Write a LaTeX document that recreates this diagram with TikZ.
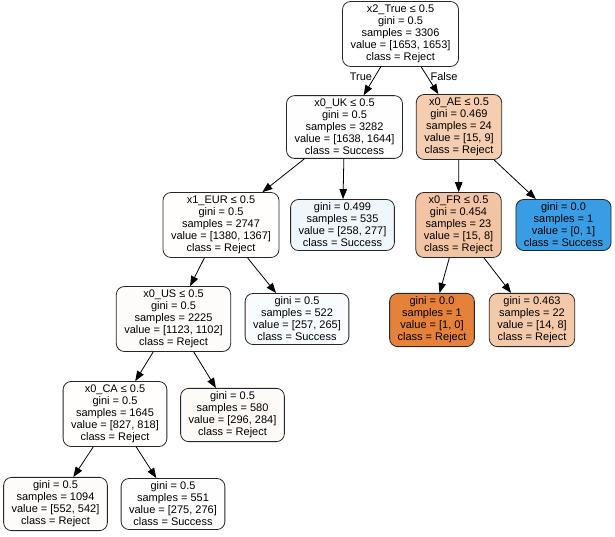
\documentclass[tikz,border=0pt]{standalone}
\usepackage{fontspec}
\setmainfont{Liberation Sans}
\usetikzlibrary{arrows.meta}
\definecolor{cRoot}{HTML}{FFFFFF}
\definecolor{cUK}{HTML}{FEFEFF}
\definecolor{cAE}{HTML}{F5CDB0}
\definecolor{cEUR}{HTML}{FFFEFD}
\definecolor{cN499}{HTML}{EFF7FD}
\definecolor{cFR}{HTML}{F3C4A3}
\definecolor{cS00}{HTML}{399DE5}
\definecolor{cUS}{HTML}{FEFCFB}
\definecolor{cN522}{HTML}{F9FCFE}
\definecolor{cR00}{HTML}{E58139}
\definecolor{cN463}{HTML}{F4C9AA}
\definecolor{cCA}{HTML}{FFFEFD}
\definecolor{cN580}{HTML}{FEFAF7}
\definecolor{cN1094}{HTML}{FEFCFB}
\definecolor{cN551}{HTML}{FEFEFF}
\begin{document}
\begin{tikzpicture}[x=1pt,y=-1pt,
  tn/.style={draw=black!85, line width=0.8pt, rounded corners=8pt, align=center,
    inner xsep=8pt, inner ysep=3.5pt, font=\fontsize{11}{12}\selectfont},
  edge/.style={draw=black, line width=0.8pt, -{Triangle[length=10pt,width=7.5pt]}},
  lab/.style={font=\fontsize{11}{12}\selectfont, inner sep=0pt}]
\useasboundingbox (0,0) rectangle (615,536);
\node[tn, fill=cRoot] (root) at (400.5,34) {x2\_True ≤ 0.5\\gini = 0.5\\samples = 3306\\value = [1653, 1653]\\class = Reject};
\node[tn, fill=cUK] (uk) at (344.5,127) {x0\_UK ≤ 0.5\\gini = 0.5\\samples = 3282\\value = [1638, 1644]\\class = Success};
\node[tn, fill=cAE] (ae) at (459,127) {x0\_AE ≤ 0.5\\gini = 0.469\\samples = 24\\value = [15, 9]\\class = Reject};
\node[tn, fill=cEUR] (eur) at (221,225) {x1\_EUR ≤ 0.5\\gini = 0.5\\samples = 2747\\value = [1380, 1367]\\class = Reject};
\node[tn, fill=cN499] (n499) at (342.5,225) {gini = 0.499\\samples = 535\\value = [258, 277]\\class = Success};
\node[tn, fill=cFR] (fr) at (458.5,225) {x0\_FR ≤ 0.5\\gini = 0.454\\samples = 23\\value = [15, 8]\\class = Reject};
\node[tn, fill=cS00] (s00) at (563.5,225) {gini = 0.0\\samples = 1\\value = [0, 1]\\class = Success};
\node[tn, fill=cUS] (us) at (173.5,319) {x0\_US ≤ 0.5\\gini = 0.5\\samples = 2225\\value = [1123, 1102]\\class = Reject};
\node[tn, fill=cN522] (n522) at (297,319) {gini = 0.5\\samples = 522\\value = [257, 265]\\class = Success};
\node[tn, fill=cR00] (r00) at (432,320) {gini = 0.0\\samples = 1\\value = [1, 0]\\class = Reject};
\node[tn, fill=cN463] (n463) at (532,320) {gini = 0.463\\samples = 22\\value = [14, 8]\\class = Reject};
\node[tn, fill=cCA] (ca) at (115,414) {x0\_CA ≤ 0.5\\gini = 0.5\\samples = 1645\\value = [827, 818]\\class = Reject};
\node[tn, fill=cN580] (n580) at (232.5,415) {gini = 0.5\\samples = 580\\value = [296, 284]\\class = Reject};
\node[tn, fill=cN1094] (n1094) at (55.5,504) {gini = 0.5\\samples = 1094\\value = [552, 542]\\class = Reject};
\node[tn, fill=cN551] (n551) at (173,504) {gini = 0.5\\samples = 551\\value = [275, 276]\\class = Success};
\draw[edge] (root) -- (uk);
\draw[edge] (root) -- (ae);
\draw[edge] (uk) -- (eur);
\draw[edge] (uk) -- (n499);
\draw[edge] (ae) -- (fr);
\draw[edge] (ae) -- (s00);
\draw[edge] (eur) -- (us);
\draw[edge] (eur) -- (n522);
\draw[edge] (fr) -- (r00);
\draw[edge] (fr) -- (n463);
\draw[edge] (us) -- (ca);
\draw[edge] (us) -- (n580);
\draw[edge] (ca) -- (n1094);
\draw[edge] (ca) -- (n551);
\node[lab] (tl) at (361,77) {True};
\node[lab] (fl) at (444,77) {False};
\end{tikzpicture}
\end{document}
